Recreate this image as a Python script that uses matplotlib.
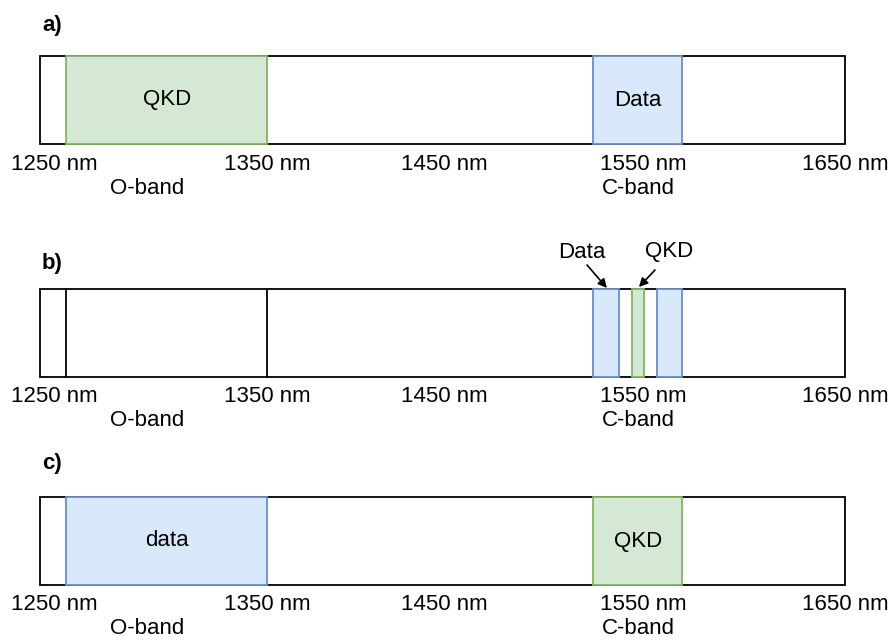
import matplotlib.pyplot as plt
from matplotlib.patches import Rectangle

plt.rcParams['font.family'] = ['Liberation Sans', 'DejaVu Sans']

# Data: spectrum from 1250 to 1650 nm, channel allocations (nm)
span = (1250, 1650)
tick_labels = ["1250 nm", "1350 nm", "1450 nm", "1550 nm", "1650 nm"]
tick_pos = [1257, 1363, 1451, 1550, 1650]
o_band = (1263, 1363)
c_band = (1525, 1569)

# panel a: QKD in O-band, data in C-band
a_bands = [(1263, 1363, "QKD", "green"), (1525, 1569, "Data", "blue")]
# panel b: everything in the C-band (DWDM)
b_bands = [(1525, 1537.5, "", "blue"), (1544, 1550, "", "green"), (1556.5, 1569, "", "blue")]
# panel c: data in O-band, QKD in C-band
c_bands = [(1263, 1363, "data", "blue"), (1525, 1569, "QKD", "green")]

colours = {"green": ("#d5e8d4", "#82b366"), "blue": ("#dae8fc", "#6c8ebf")}

fig = plt.figure(figsize=(8.93, 6.41), dpi=100)
ax = fig.add_axes([0, 0, 1, 1])
px = 2.0125  # pixels per nm
ax.set_xlim(1250 - 40 / px, 1250 + 853 / px)
ax.set_ylim(641, 0)
ax.axis("off")

fs = 16


def draw_panel(top, label, label_y, bands, o_lines=False):
    h = 88
    ax.text(1251, label_y, label, fontsize=fs, fontweight="bold", va="center", ha="left")
    for lo, hi, name, col in bands:
        face, edge = colours[col]
        ax.add_patch(Rectangle((lo, top), hi - lo, h, facecolor=face, edgecolor=edge, lw=1.3, zorder=2))
        if name:
            ax.text((lo + hi) / 2, top + h / 2, name, fontsize=fs, ha="center", va="center", zorder=3)
    # outer box
    ax.add_patch(Rectangle((span[0], top), span[1] - span[0], h, fill=False, edgecolor="black", lw=1.3, zorder=1))
    if o_lines:
        for x in o_band:
            ax.plot([x, x], [top, top + h], color="black", lw=1.3, zorder=1)
    for t, x in zip(tick_labels, tick_pos):
        ax.text(x, top + h + 20, t, fontsize=fs, ha="center", va="center")
    ax.text((o_band[0] + o_band[1]) / 2 - 10, top + h + 44, "O-band", fontsize=fs, ha="center", va="center")
    ax.text(c_band[0] + 4, top + h + 44, "C-band", fontsize=fs, ha="left", va="center")


draw_panel(56, "a)", 25, a_bands)
draw_panel(289, "b)", 263, b_bands, o_lines=True)
draw_panel(497, "c)", 463, c_bands)

# annotations in panel b
arrow = dict(arrowstyle="-|>", color="black", lw=1.2, mutation_scale=13, shrinkA=0, shrinkB=0)
ax.text(1519, 252, "Data", fontsize=fs, ha="center", va="center")
ax.annotate("", xy=(1531.7, 288), xytext=(1521.8, 265), arrowprops=arrow)
ax.text(1562.5, 252, "QKD", fontsize=fs, ha="center", va="center")
ax.annotate("", xy=(1547.6, 287), xytext=(1555.6, 270), arrowprops=arrow)

fig.savefig("out.png", dpi=100)
